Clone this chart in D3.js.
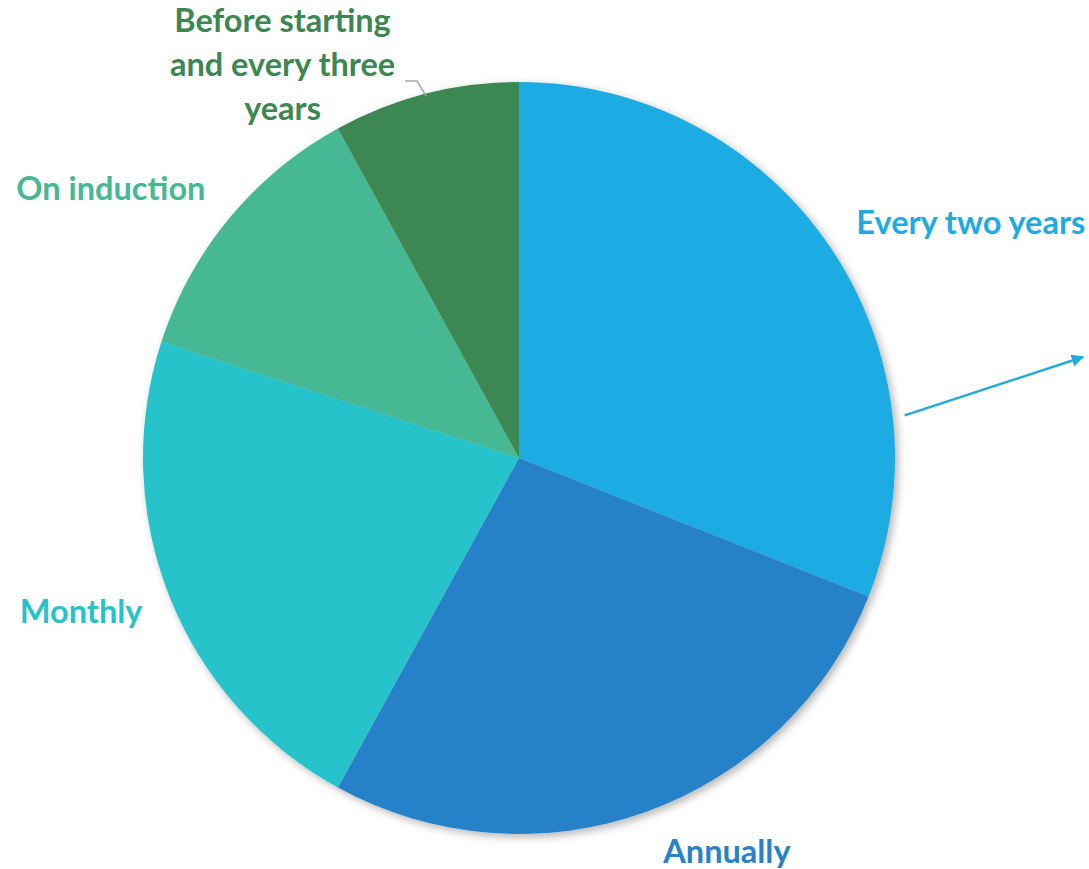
<!DOCTYPE html>
<html>
<head>
<meta charset="utf-8">
<script src="https://cdn.jsdelivr.net/npm/d3@7"></script>
<style>
  body { margin: 0; background: #fff; }
  svg { display: block; }
  .label { font-family: Lato, "Open Sans", sans-serif; font-weight: 700; font-size: 32.5px; }
</style>
</head>
<body>
<div id="chart"></div>
<script>
const categories = ["Every two years", "Annually", "Monthly", "On induction", "Before starting and every three years"];
const shares = [31, 27, 22, 12, 8];
const colors = ["#1fabe2", "#2882c8", "#26c3cb", "#46b894", "#3d8752"];

const width = 1089, height = 869;
const cx = 519, cy = 458, radius = 376;

const data = categories.map((name, i) => ({ name, value: shares[i], color: colors[i] }));

const svg = d3.select("#chart").append("svg")
  .attr("width", width)
  .attr("height", height);

const defs = svg.append("defs");
const shadow = defs.append("filter").attr("id", "shadow")
  .attr("x", "-10%").attr("y", "-10%").attr("width", "120%").attr("height", "120%");
shadow.append("feDropShadow")
  .attr("dx", 3).attr("dy", 3).attr("stdDeviation", 4)
  .attr("flood-color", "#000").attr("flood-opacity", 0.3);

defs.append("marker").attr("id", "arrow")
  .attr("viewBox", "0 0 10 10").attr("refX", 9).attr("refY", 5)
  .attr("markerWidth", 5).attr("markerHeight", 5).attr("orient", "auto")
  .append("path").attr("d", "M0,0 L10,5 L0,10 z").attr("fill", colors[0]);

const pie = d3.pie().sort(null).value((d) => d.value);
const arc = d3.arc().innerRadius(0).outerRadius(radius);
const labelArc = d3.arc().innerRadius(420).outerRadius(420);

const arcs = pie(data);

const g = svg.append("g").attr("transform", `translate(${cx},${cy})`);

g.append("g").attr("filter", "url(#shadow)")
  .selectAll("path")
  .data(arcs)
  .join("path")
  .attr("d", arc)
  .attr("fill", (d) => d.data.color);

// label placement tweaks, by category
const nudge = {
  "Every two years": { dx: -10, dy: 12, anchor: "start", lines: ["Every two years"] },
  "Annually": { dx: 2, dy: 10, anchor: "start", lines: ["Annually"] },
  "Monthly": { dx: 14, dy: 10, anchor: "end", lines: ["Monthly"] },
  "On induction": { dx: 10, dy: 10, anchor: "end", lines: ["On induction"] },
  "Before starting and every three years": { dx: -132, dy: -19, anchor: "middle",
    lines: ["Before starting", "and every three", "years"] }
};

const labels = g.selectAll("text.label")
  .data(arcs)
  .join("text")
  .attr("class", "label")
  .attr("fill", (d) => d.data.color)
  .attr("text-anchor", (d) => nudge[d.data.name].anchor)
  .attr("transform", (d) => {
    const [x, y] = labelArc.centroid(d);
    const n = nudge[d.data.name];
    return `translate(${x + n.dx},${y + n.dy})`;
  });

labels.each(function (d) {
  const lines = nudge[d.data.name].lines;
  d3.select(this).selectAll("tspan")
    .data(lines)
    .join("tspan")
    .attr("x", 0)
    .attr("dy", (l, i) => (i === 0 ? 0 : 44))
    .text((l) => l);
});

// leader line for the small slice
const small = arcs[4];
const edge = d3.arc().innerRadius(radius - 2).outerRadius(radius - 2).centroid(small);
g.append("polyline")
  .attr("points", [[-114, -377], [-102, -377], edge].map((p) => p.join(",")).join(" "))
  .attr("fill", "none")
  .attr("stroke", "#a6a6a6")
  .attr("stroke-width", 1.5);

// arrow out of the first slice
const first = arcs[0];
const ang = first.startAngle + (first.endAngle - first.startAngle) * 0.75;
const start = [Math.sin(ang) * (radius + 12), -Math.cos(ang) * (radius + 12)];
g.append("line")
  .attr("x1", start[0]).attr("y1", start[1])
  .attr("x2", width - cx - 6).attr("y2", 357 - cy)
  .attr("stroke", colors[0])
  .attr("stroke-width", 2.5)
  .attr("marker-end", "url(#arrow)");
</script>
</body>
</html>
